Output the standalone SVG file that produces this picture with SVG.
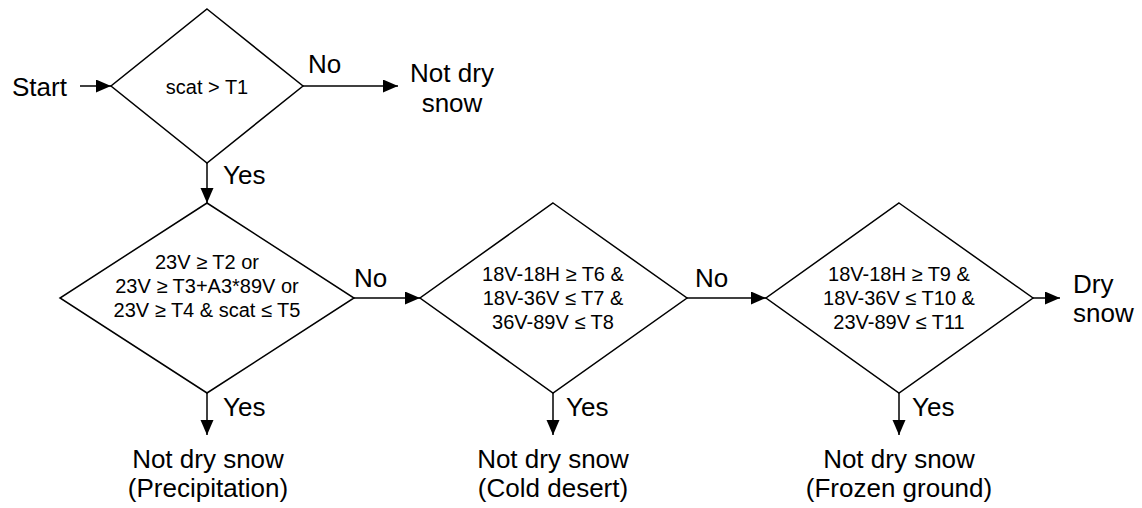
<svg xmlns="http://www.w3.org/2000/svg" width="1142" height="508" viewBox="0 0 1142 508">
<style>
.d{fill:#fff;stroke:#000;stroke-width:1.5}
.c{fill:none;stroke:#000;stroke-width:1.5}
.s{font-family:"Liberation Sans",Arial,sans-serif;font-size:20px;fill:#000;text-anchor:middle}
.b{font-family:"Liberation Sans",Arial,sans-serif;font-size:26px;fill:#000}
.m{text-anchor:middle}
</style>
<defs>
<marker id="ah" markerUnits="userSpaceOnUse" markerWidth="16" markerHeight="14" refX="15" refY="6.5" orient="auto">
<path d="M0,0 L15,6.5 L0,13 Z" fill="#000"/>
</marker>
</defs>
<g id="connectors">
<line class="c" x1="80" y1="86" x2="111" y2="86" marker-end="url(#ah)"/>
<line class="c" x1="303" y1="86" x2="398" y2="86" marker-end="url(#ah)"/>
<line class="c" x1="207" y1="163" x2="207" y2="203" marker-end="url(#ah)"/>
<line class="c" x1="354" y1="298" x2="420" y2="298" marker-end="url(#ah)"/>
<line class="c" x1="687" y1="298" x2="766" y2="298" marker-end="url(#ah)"/>
<line class="c" x1="1033" y1="298" x2="1060" y2="298" marker-end="url(#ah)"/>
<line class="c" x1="207" y1="393" x2="207" y2="435" marker-end="url(#ah)"/>
<line class="c" x1="553" y1="393" x2="553" y2="435" marker-end="url(#ah)"/>
<line class="c" x1="899" y1="393" x2="899" y2="435" marker-end="url(#ah)"/>
<text class="b" x="308" y="73">No</text>
<text class="b" x="223" y="184">Yes</text>
<text class="b" x="354" y="287">No</text>
<text class="b" x="695" y="287">No</text>
<text class="b" x="223" y="416">Yes</text>
<text class="b" x="566" y="416">Yes</text>
<text class="b" x="912" y="416">Yes</text>
</g>
<g id="start"><text class="b" x="12" y="96">Start</text></g>
<g id="d1">
<polygon class="d" points="207,9 303,86 207,163 111,86"/>
<text class="s" x="207" y="94">scat &gt; T1</text>
</g>
<g id="out1"><text class="b m" x="452" y="82">Not dry</text><text class="b m" x="452" y="112">snow</text></g>
<g id="d2">
<polygon class="d" points="207,203 354,298 207,393 60,298"/>
<text class="s" x="207" y="269">23V ≥ T2 or</text>
<text class="s" x="207" y="293">23V ≥ T3+A3*89V or</text>
<text class="s" x="207" y="317">23V ≥ T4 &amp; scat ≤ T5</text>
</g>
<g id="d3">
<polygon class="d" points="553,203 687,298 553,393 420,298"/>
<text class="s" x="553" y="281">18V-18H ≥ T6 &amp;</text>
<text class="s" x="553" y="305">18V-36V ≤ T7 &amp;</text>
<text class="s" x="553" y="329">36V-89V ≤ T8</text>
</g>
<g id="d4">
<polygon class="d" points="899,203 1033,298 899,393 766,298"/>
<text class="s" x="899" y="281">18V-18H ≥ T9 &amp;</text>
<text class="s" x="899" y="305">18V-36V ≤ T10 &amp;</text>
<text class="s" x="899" y="329">23V-89V ≤ T11</text>
</g>
<g id="out2"><text class="b" x="1073" y="293">Dry</text><text class="b" x="1073" y="322">snow</text></g>
<g id="out3"><text class="b m" x="208" y="468">Not dry snow</text><text class="b m" x="208" y="497">(Precipitation)</text></g>
<g id="out4"><text class="b m" x="553" y="468">Not dry snow</text><text class="b m" x="553" y="497">(Cold desert)</text></g>
<g id="out5"><text class="b m" x="899" y="468">Not dry snow</text><text class="b m" x="899" y="497">(Frozen ground)</text></g>
</svg>
